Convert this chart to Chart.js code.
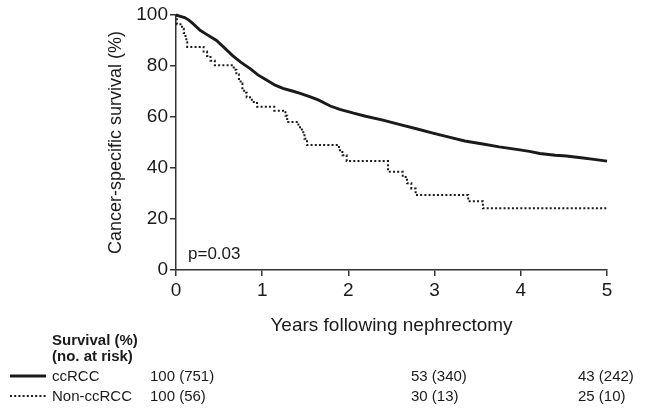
<!DOCTYPE html>
<html>
<head>
<meta charset="utf-8">
<script src="https://cdn.jsdelivr.net/npm/chart.js@4.4.1/dist/chart.umd.min.js"></script>
<style>
  body { margin: 0; background: #fff; }
  #wrap { width: 651px; height: 412px; }
</style>
</head>
<body>
<div id="wrap"><canvas id="myChart" width="651" height="412"></canvas></div>
<script>
// ccRCC curve (years, % surviving)
const ccYears = [0, 0.05, 0.1, 0.15, 0.2, 0.28, 0.35, 0.47, 0.55, 0.66, 0.75, 0.86, 0.95, 1.05, 1.15, 1.24, 1.35, 1.44, 1.55, 1.65, 1.79, 1.9, 2.06, 2.2, 2.4, 2.6, 2.8, 2.98, 3.18, 3.35, 3.56, 3.75, 3.95, 4.1, 4.22, 4.4, 4.53, 4.7, 4.85, 5.0];
const ccSurv = [100, 99.5, 99, 98, 96.5, 94, 92.5, 90, 87.5, 84, 81.5, 79, 76.5, 74.5, 72.5, 71.2, 70.2, 69.3, 68, 66.7, 64.3, 63, 61.5, 60.3, 58.8, 57, 55.3, 53.7, 52, 50.6, 49.4, 48.3, 47.3, 46.5, 45.7, 45, 44.7, 44, 43.4, 42.7];

// Non-ccRCC steps (drop at each year value)
const nonYears = [0, 0.01, 0.07, 0.09, 0.11, 0.12, 0.13, 0.32, 0.36, 0.40, 0.45, 0.67, 0.70, 0.73, 0.75, 0.77, 0.79, 0.82, 0.88, 0.94, 1.14, 1.27, 1.29, 1.42, 1.46, 1.49, 1.52, 1.89, 1.93, 1.98, 2.46, 2.63, 2.68, 2.73, 2.78, 3.39, 3.56, 5.0];
const nonSurv = [100, 96.4, 94.6, 92.9, 91.1, 89.3, 87.5, 85.7, 83.9, 82.1, 80.3, 78.5, 76.7, 74.9, 73.1, 71.3, 69.5, 67.7, 65.9, 64, 62.5, 60.5, 58, 56, 54, 51.5, 49, 47, 45, 42.7, 38.5, 36.5, 34, 32, 29.4, 27, 24.2, 24.2];

const xTicks = [0, 1, 2, 3, 4, 5];
const yTicks = [0, 20, 40, 60, 80, 100];

// table under the plot
const groups = ["ccRCC", "Non-ccRCC"];
const riskYears = [0, 3, 5];
const riskCc = ["100 (751)", "53 (340)", "43 (242)"];
const riskNon = ["100 (56)", "30 (13)", "25 (10)"];
const pValue = "p=0.03";

const ink = "#1a1a1a";
const fam = "'Liberation Sans', Arial, sans-serif";

function pts(xs, ys) {
  return xs.map((x, i) => ({ x: x, y: ys[i] }));
}

const tablePlugin = {
  id: "riskTable",
  afterDraw(chart) {
    const ctx = chart.ctx;
    ctx.save();
    ctx.fillStyle = ink;
    ctx.textBaseline = "alphabetic";
    ctx.textAlign = "left";

    ctx.font = "17px " + fam;
    ctx.fillText(pValue, 188, 259);

    ctx.font = "bold 15px " + fam;
    ctx.fillText("Survival (%)", 52, 345);
    ctx.fillText("(no. at risk)", 52, 361);

    const rowY = [381, 401];
    const colX = [150, 411, 578];
    ctx.font = "15px " + fam;
    groups.forEach((g, i) => {
      ctx.fillText(g, 52, rowY[i]);
      const vals = i === 0 ? riskCc : riskNon;
      vals.forEach((v, j) => ctx.fillText(v, colX[j], rowY[i]));
    });

    // line samples
    ctx.strokeStyle = ink;
    ctx.lineWidth = 2.8;
    ctx.beginPath();
    ctx.moveTo(10, 376);
    ctx.lineTo(46, 376);
    ctx.stroke();
    ctx.lineWidth = 2;
    ctx.setLineDash([2, 2.2]);
    ctx.beginPath();
    ctx.moveTo(10, 396);
    ctx.lineTo(46, 396);
    ctx.stroke();
    ctx.restore();
  }
};

const chart = new Chart(document.getElementById("myChart"), {
  type: "line",
  data: {
    datasets: [
      {
        label: groups[0],
        data: pts(ccYears, ccSurv),
        borderColor: ink,
        borderWidth: 2.9,
        pointRadius: 0,
        tension: 0,
        clip: 5
      },
      {
        label: groups[1],
        data: pts(nonYears, nonSurv),
        borderColor: ink,
        borderWidth: 2,
        borderDash: [2, 2.2],
        stepped: true,
        pointRadius: 0,
        clip: 5
      }
    ]
  },
  options: {
    responsive: false,
    animation: false,
    layout: { padding: { left: 105, top: 15, right: 44, bottom: 74.5 } },
    plugins: { legend: { display: false }, tooltip: { enabled: false } },
    scales: {
      x: {
        type: "linear",
        min: 0,
        max: 5,
        afterBuildTicks: (s) => { s.ticks = xTicks.map(v => ({ value: v })); },
        afterFit: (s) => { s.height = 67.5; },
        grid: { display: true, drawOnChartArea: false, tickLength: 6, color: "#333", lineWidth: 1.5 },
        border: { display: true, color: "#333", width: 1.5 },
        ticks: { color: ink, font: { family: fam, size: 19 }, padding: 3 },
        title: { display: true, text: "Years following nephrectomy", color: ink, font: { family: fam, size: 19 }, padding: 0 }
      },
      y: {
        min: 0,
        max: 100,
        afterBuildTicks: (s) => { s.ticks = yTicks.map(v => ({ value: v })); },
        afterFit: (s) => { s.width = 71; },
        grid: { display: true, drawOnChartArea: false, tickLength: 6, color: "#333", lineWidth: 1.5 },
        border: { display: true, color: "#333", width: 1.5 },
        ticks: { color: ink, font: { family: fam, size: 19 }, padding: 2 },
        title: { display: true, text: "Cancer-specific survival (%)", color: ink, font: { family: fam, size: 18 }, padding: 0 }
      }
    }
  },
  plugins: [tablePlugin]
});
</script>
</body>
</html>
